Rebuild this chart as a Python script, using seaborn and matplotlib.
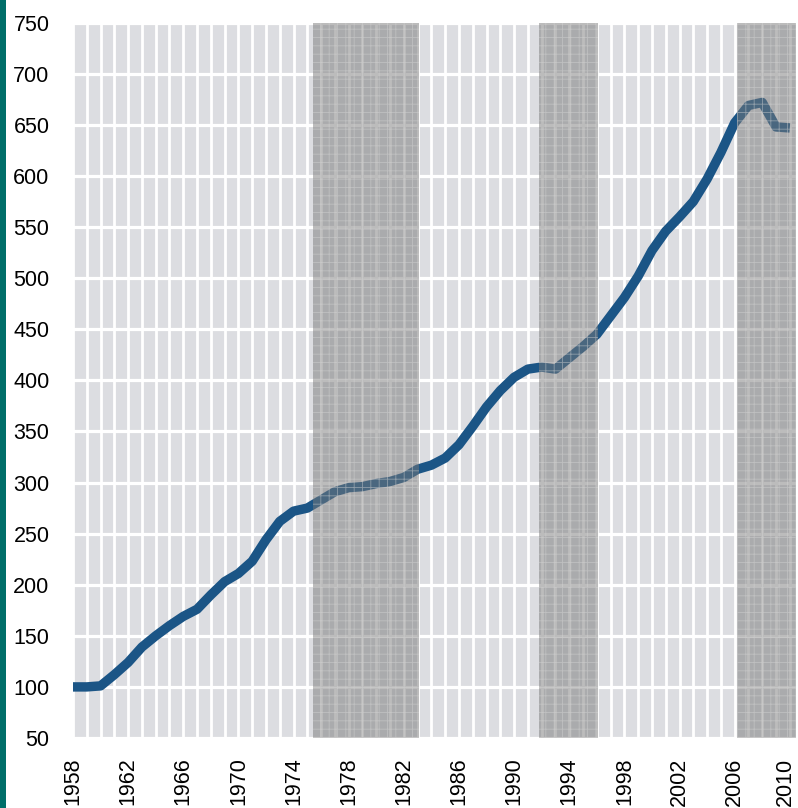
import matplotlib
matplotlib.use("Agg")
import matplotlib.pyplot as plt
import matplotlib.transforms as mtransforms
import seaborn as sns
import pandas as pd
from matplotlib.patches import Rectangle

# Index level by year (1958 = 100)
years = [1958, 1959, 1960, 1961, 1962, 1963, 1964, 1965, 1966, 1967,
         1968, 1969, 1970, 1971, 1972, 1973, 1974, 1975, 1976, 1977,
         1978, 1979, 1980, 1981, 1982, 1983, 1984, 1985, 1986, 1987,
         1988, 1989, 1990, 1991, 1992, 1993, 1994, 1995, 1996, 1997,
         1998, 1999, 2000, 2001, 2002, 2003, 2004, 2005, 2006, 2007,
         2008, 2009, 2010]
index_values = [100, 100, 101, 112, 124, 139, 150, 160, 169, 176,
                190, 203, 211, 223, 244, 262, 272, 275, 283, 291,
                295, 296, 299, 301, 305, 313, 317, 324, 337, 355,
                374, 390, 403, 411, 413, 411, 422, 433, 445, 463,
                481, 502, 527, 546, 560, 575, 597, 623, 652, 669,
                672, 648, 647]

# Shaded periods (start, end) in fractional years
shade_starts = [1975.4, 1991.8, 2006.15]
shade_ends = [1983.1, 1996.05, 2010.45]

# Axis ticks
year_ticks = list(range(1958, 2011, 4))
value_ticks = list(range(50, 751, 50))

df = pd.DataFrame({"year": years, "value": index_values})

plt.rcParams["hatch.linewidth"] = 0.6

fig = plt.figure(figsize=(7.98, 8.08), dpi=100)
ax = fig.add_axes([73 / 798, 70 / 808, (796 - 73) / 798, (738 - 22.7) / 808])
ax.set_facecolor("#dcdde1")

# Teal accent bar along the left edge
fig.patches.append(Rectangle((0, 0), 6 / 798, 1, transform=fig.transFigure,
                             facecolor="#006e69", edgecolor="none"))

sns.lineplot(data=df, x="year", y="value", ax=ax, color="#1b5586",
             linewidth=6.8, zorder=2, solid_capstyle="butt",
             solid_joinstyle="round")

for s, e in zip(shade_starts, shade_ends):
    ax.axvspan(s, e, facecolor="#7a7a7a", alpha=0.5, edgecolor="#d4d4d4",
               hatch="++", linewidth=0, zorder=3)

ax.set_xlim(1958, 2010.45)
ax.set_ylim(50, 750)
ax.set_xticks(year_ticks)
ax.set_xticks(list(range(1958, 2011)), minor=True)
ax.set_yticks(value_ticks)
ax.set_axisbelow(True)
ax.grid(which="both", axis="x", color="white", linewidth=2.0)
ax.grid(which="major", axis="y", color="white", linewidth=2.3)

label_font = dict(family="Liberation Sans", size=15.5)
ax.set_xticklabels([str(y) for y in year_ticks], rotation=90, **label_font)
ax.set_yticklabels([str(v) for v in value_ticks], **label_font)
ax.tick_params(axis="both", which="both", length=0)
ax.tick_params(axis="x", pad=14)
ax.tick_params(axis="y", pad=17)
ax.set_xlabel("")
ax.set_ylabel("")
for sp in ax.spines.values():
    sp.set_visible(False)

# Keep the last year label inside the figure edge
last = ax.get_xticklabels()[-1]
last.set_transform(last.get_transform() +
                   mtransforms.ScaledTranslation(-4 / 100, 0, fig.dpi_scale_trans))

fig.savefig("out.png", dpi=100, facecolor="white")
